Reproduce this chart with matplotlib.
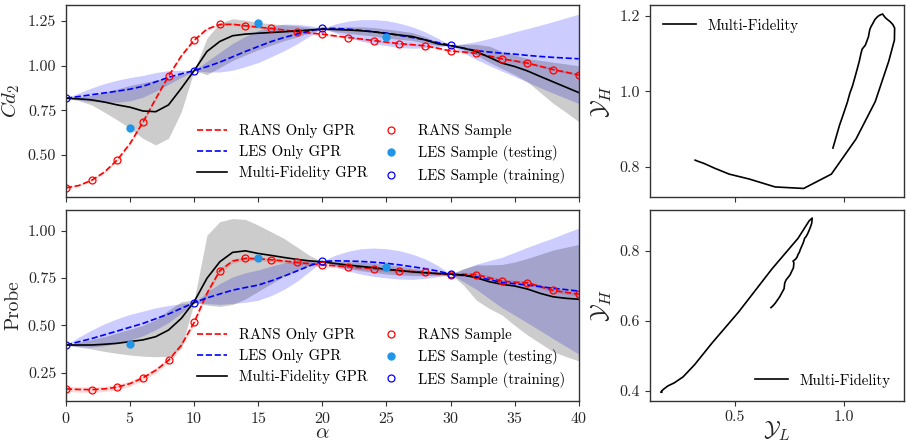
import matplotlib
matplotlib.use('Agg')
import matplotlib.pyplot as plt
from matplotlib.ticker import FormatStrFormatter

plt.rcParams['font.family'] = 'serif'
plt.rcParams['font.serif'] = ['cmr10']
plt.rcParams['mathtext.fontset'] = 'cm'
plt.rcParams['axes.formatter.use_mathtext'] = True
plt.rcParams['axes.unicode_minus'] = False

alpha = list(range(0, 41))

# ---- Cd2 ----
cd_rans = [0.317, 0.330, 0.359, 0.405, 0.473, 0.565, 0.684, 0.815, 0.942, 1.055,
           1.143, 1.205, 1.231, 1.232, 1.224, 1.216, 1.209, 1.200, 1.190, 1.183,
           1.177, 1.167, 1.158, 1.150, 1.141, 1.132, 1.124, 1.118, 1.112, 1.098,
           1.083, 1.077, 1.070, 1.055, 1.039, 1.027, 1.015, 0.997, 0.979, 0.964, 0.949]
cd_rans_sd = [0.006, 0.006, 0.006, 0.007, 0.008, 0.008, 0.008, 0.008, 0.008, 0.007,
              0.006, 0.006, 0.006, 0.006, 0.006, 0.006, 0.006, 0.006, 0.006, 0.006,
              0.006, 0.006, 0.006, 0.006, 0.006, 0.006, 0.006, 0.006, 0.006, 0.006,
              0.006, 0.006, 0.006, 0.006, 0.006, 0.006, 0.006, 0.006, 0.006, 0.006, 0.006]
cd_les = [0.818, 0.828, 0.838, 0.848, 0.858, 0.869, 0.885, 0.910, 0.935, 0.955,
          0.973, 0.995, 1.020, 1.050, 1.080, 1.108, 1.135, 1.158, 1.177, 1.195,
          1.209, 1.209, 1.205, 1.198, 1.190, 1.183, 1.170, 1.158, 1.145, 1.130,
          1.115, 1.098, 1.085, 1.077, 1.070, 1.065, 1.058, 1.052, 1.047, 1.043, 1.039]
cd_les_sd = [0, 0.020, 0.038, 0.052, 0.061, 0.065, 0.061, 0.052, 0.038, 0.020,
             0, 0.030, 0.055, 0.075, 0.085, 0.090, 0.085, 0.075, 0.055, 0.030,
             0, 0.025, 0.045, 0.060, 0.068, 0.070, 0.068, 0.060, 0.045, 0.025,
             0, 0.025, 0.050, 0.075, 0.100, 0.125, 0.150, 0.175, 0.200, 0.225, 0.250]
cd_mf = [0.818, 0.815, 0.809, 0.797, 0.781, 0.768, 0.747, 0.743, 0.781, 0.874,
         0.973, 1.080, 1.136, 1.168, 1.177, 1.182, 1.186, 1.190, 1.195, 1.200,
         1.205, 1.203, 1.200, 1.196, 1.190, 1.180, 1.172, 1.164, 1.145, 1.123,
         1.112, 1.099, 1.080, 1.048, 1.015, 0.996, 0.971, 0.940, 0.910, 0.880, 0.850]
cd_mf_lo = [0.818, 0.805, 0.781, 0.740, 0.697, 0.650, 0.594, 0.557, 0.594, 0.743,
            0.973, 0.950, 0.990, 1.030, 1.060, 1.090, 1.115, 1.140, 1.160, 1.185,
            1.205, 1.191, 1.182, 1.174, 1.166, 1.155, 1.148, 1.142, 1.127, 1.113,
            1.112, 1.090, 1.060, 1.020, 0.985, 0.950, 0.910, 0.850, 0.790, 0.740, 0.687]
cd_mf_hi = [0.818, 0.825, 0.835, 0.850, 0.870, 0.890, 0.905, 0.920, 0.930, 0.955,
            0.973, 1.155, 1.239, 1.263, 1.255, 1.242, 1.235, 1.229, 1.224, 1.215,
            1.205, 1.215, 1.218, 1.218, 1.214, 1.205, 1.196, 1.186, 1.163, 1.133,
            1.112, 1.120, 1.120, 1.110, 1.080, 1.060, 1.040, 1.030, 1.020, 1.010, 1.000]

# ---- Probe ----
pr_rans = [0.164, 0.161, 0.160, 0.164, 0.173, 0.192, 0.222, 0.262, 0.315, 0.395,
           0.516, 0.670, 0.789, 0.840, 0.854, 0.852, 0.847, 0.840, 0.833, 0.826,
           0.819, 0.815, 0.810, 0.805, 0.800, 0.795, 0.789, 0.785, 0.780, 0.773,
           0.766, 0.770, 0.768, 0.752, 0.734, 0.728, 0.725, 0.705, 0.685, 0.674, 0.665]
pr_rans_sd = [0.014, 0.014, 0.014, 0.014, 0.014, 0.014, 0.014, 0.014, 0.014, 0.013,
              0.012, 0.012, 0.012, 0.011, 0.010, 0.010, 0.010, 0.010, 0.010, 0.010,
              0.010, 0.010, 0.010, 0.010, 0.010, 0.010, 0.010, 0.010, 0.010, 0.010,
              0.010, 0.010, 0.010, 0.010, 0.010, 0.010, 0.010, 0.010, 0.010, 0.010, 0.010]
pr_les = [0.396, 0.413, 0.430, 0.450, 0.470, 0.490, 0.510, 0.535, 0.560, 0.590,
          0.620, 0.645, 0.666, 0.686, 0.700, 0.713, 0.735, 0.760, 0.787, 0.815,
          0.838, 0.841, 0.840, 0.838, 0.834, 0.828, 0.820, 0.810, 0.800, 0.787,
          0.771, 0.764, 0.757, 0.742, 0.727, 0.720, 0.713, 0.705, 0.696, 0.689, 0.681]
pr_les_sd = [0, 0.025, 0.045, 0.058, 0.065, 0.068, 0.065, 0.058, 0.045, 0.025,
             0, 0.030, 0.055, 0.070, 0.078, 0.080, 0.078, 0.070, 0.055, 0.030,
             0, 0.030, 0.052, 0.067, 0.075, 0.077, 0.075, 0.067, 0.052, 0.030,
             0, 0.033, 0.066, 0.100, 0.133, 0.166, 0.200, 0.233, 0.266, 0.300, 0.333]
pr_mf = [0.396, 0.396, 0.396, 0.400, 0.405, 0.414, 0.423, 0.440, 0.475, 0.537,
         0.625, 0.749, 0.836, 0.886, 0.894, 0.880, 0.870, 0.859, 0.849, 0.841,
         0.836, 0.827, 0.819, 0.812, 0.805, 0.796, 0.790, 0.783, 0.778, 0.774,
         0.771, 0.766, 0.752, 0.731, 0.717, 0.708, 0.692, 0.669, 0.651, 0.643, 0.638]
pr_mf_lo = [0.396, 0.385, 0.375, 0.362, 0.352, 0.343, 0.337, 0.334, 0.336, 0.380,
            0.620, 0.607, 0.600, 0.610, 0.640, 0.680, 0.720, 0.760, 0.790, 0.815,
            0.836, 0.817, 0.801, 0.789, 0.780, 0.771, 0.766, 0.763, 0.763, 0.766,
            0.771, 0.713, 0.634, 0.590, 0.555, 0.500, 0.449, 0.405, 0.361, 0.335, 0.312]
pr_mf_hi = [0.396, 0.410, 0.425, 0.440, 0.460, 0.480, 0.500, 0.530, 0.580, 0.625,
            0.635, 0.977, 1.048, 1.065, 1.060, 1.030, 0.995, 0.960, 0.915, 0.870,
            0.836, 0.837, 0.837, 0.835, 0.830, 0.821, 0.814, 0.803, 0.793, 0.782,
            0.771, 0.800, 0.819, 0.820, 0.822, 0.835, 0.854, 0.876, 0.898, 0.913, 0.928]

# sample locations
rans_idx = list(range(0, 41, 2))
train_idx = [0, 10, 20, 30]
test_alpha = [5, 15, 25]
cd_test = [0.654, 1.237, 1.162]
pr_test = [0.403, 0.854, 0.810]

test_color = '#2196e8'
spine_c = '0.2'
text_c = '0.15'


def style(ax):
    for s in ax.spines.values():
        s.set_color(spine_c)
        s.set_linewidth(1.0)
    ax.tick_params(direction='out', length=3.5, width=0.8, color=spine_c,
                   labelcolor=text_c, labelsize=11.5)


def left_panel(ax, rans, rans_sd, les, les_sd, mf, mf_lo, mf_hi, test):
    r_lo = [m - s for m, s in zip(rans, rans_sd)]
    r_hi = [m + s for m, s in zip(rans, rans_sd)]
    l_lo = [m - s for m, s in zip(les, les_sd)]
    l_hi = [m + s for m, s in zip(les, les_sd)]
    ax.fill_between(alpha, r_lo, r_hi, color='r', alpha=0.15, lw=0)
    ax.fill_between(alpha, l_lo, l_hi, color='b', alpha=0.2, lw=0)
    ax.fill_between(alpha, mf_lo, mf_hi, color='k', alpha=0.2, lw=0)
    ax.plot(alpha, rans, 'r--', lw=1.2, label='RANS Only GPR')
    ax.plot(alpha, les, 'b--', lw=1.2, label='LES Only GPR')
    ax.plot(alpha, mf, 'k-', lw=1.2, label='Multi-Fidelity GPR')
    ax.plot([alpha[i] for i in rans_idx], [rans[i] for i in rans_idx], 'o',
            mfc='none', mec='r', ms=5, mew=0.9, label='RANS Sample')
    ax.plot(test_alpha, test, 'o', color=test_color, ms=5, label='LES Sample (testing)')
    ax.plot([alpha[i] for i in train_idx], [les[i] for i in train_idx], 'o',
            mfc='none', mec='b', ms=5, mew=0.9, label='LES Sample (training)')
    ax.set_xlim(0, 40)
    ax.set_xticks([0, 5, 10, 15, 20, 25, 30, 35, 40])
    ax.yaxis.set_major_formatter(FormatStrFormatter('%.2f'))
    ax.legend(loc='lower right', ncol=2, frameon=False, fontsize=10.7,
              handlelength=2.0, labelspacing=0.45, columnspacing=0.6,
              bbox_to_anchor=(1.0, 0.0))
    style(ax)


fig = plt.figure(figsize=(9.06, 4.45), dpi=100)
ax1 = fig.add_axes([0.0728, 0.557, 0.566, 0.4318])
ax2 = fig.add_axes([0.0728, 0.0989, 0.566, 0.4292])
ax3 = fig.add_axes([0.7174, 0.557, 0.2804, 0.4318])
ax4 = fig.add_axes([0.7174, 0.0989, 0.2804, 0.4292])

left_panel(ax1, cd_rans, cd_rans_sd, cd_les, cd_les_sd, cd_mf, cd_mf_lo, cd_mf_hi, cd_test)
ax1.set_ylim(0.265, 1.34)
ax1.set_yticks([0.5, 0.75, 1.0, 1.25])
ax1.set_xticklabels([])
ax1.set_ylabel('$Cd_2$', fontsize=15, color=text_c)

left_panel(ax2, pr_rans, pr_rans_sd, pr_les, pr_les_sd, pr_mf, pr_mf_lo, pr_mf_hi, pr_test)
ax2.set_ylim(0.10, 1.11)
ax2.set_yticks([0.25, 0.5, 0.75, 1.0])
ax2.set_ylabel('Probe', fontsize=14, color=text_c)
ax2.set_xlabel(r'$\alpha$', fontsize=15, color=text_c, labelpad=-1)

# low-fidelity vs high-fidelity prediction
ax3.plot(cd_rans, cd_mf, 'k-', lw=1.2, label='Multi-Fidelity')
ax3.set_xlim(0.11, 1.275)
ax3.set_ylim(0.72, 1.229)
ax3.set_xticks([0.5, 1.0])
ax3.set_xticklabels([])
ax3.set_yticks([0.8, 1.0, 1.2])
ax3.yaxis.set_major_formatter(FormatStrFormatter('%.1f'))
ax3.set_ylabel(r'$\mathcal{Y}_H$', fontsize=17, color=text_c)
ax3.legend(loc='upper left', frameon=False, fontsize=10.7, handlelength=2.2)
style(ax3)

ax4.plot(pr_rans, pr_mf, 'k-', lw=1.2, label='Multi-Fidelity')
ax4.set_xlim(0.11, 1.275)
ax4.set_ylim(0.371, 0.917)
ax4.set_xticks([0.5, 1.0])
ax4.xaxis.set_major_formatter(FormatStrFormatter('%.1f'))
ax4.set_yticks([0.4, 0.6, 0.8])
ax4.yaxis.set_major_formatter(FormatStrFormatter('%.1f'))
ax4.set_ylabel(r'$\mathcal{Y}_H$', fontsize=17, color=text_c)
ax4.set_xlabel(r'$\mathcal{Y}_L$', fontsize=16, color=text_c, labelpad=-4)
ax4.legend(loc='lower right', frameon=False, fontsize=10.7, handlelength=2.2)
style(ax4)

fig.savefig('out.png', dpi=100)
